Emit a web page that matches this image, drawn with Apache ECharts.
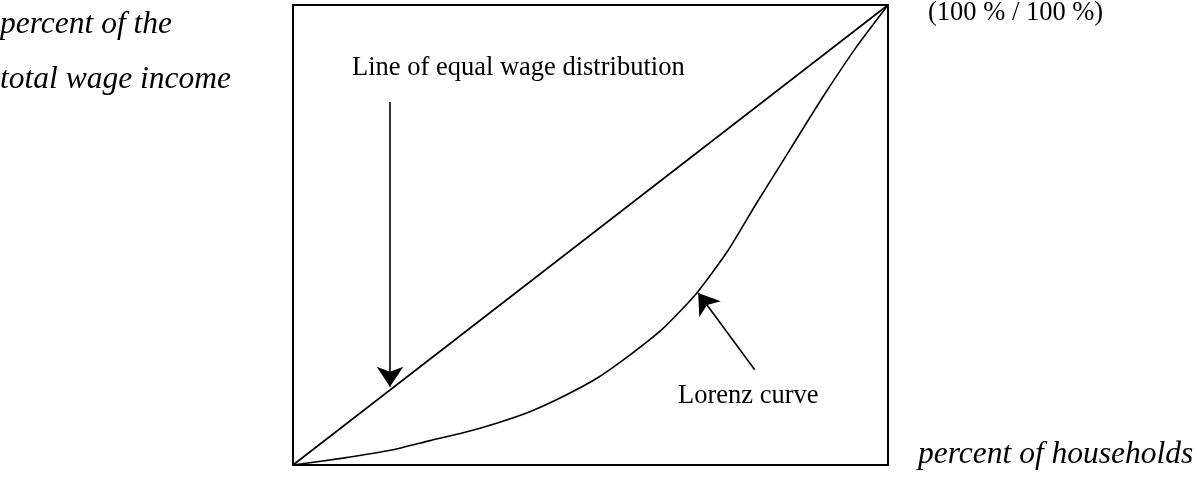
<!DOCTYPE html>
<html>
<head>
<meta charset="utf-8">
<script src="https://cdn.jsdelivr.net/npm/echarts@6/dist/echarts.min.js"></script>
<style>
  html, body { margin: 0; padding: 0; background: #fff; }
  #chart { width: 1197px; height: 482px; }
</style>
</head>
<body>
<div id="chart"></div>
<script>
// share of households (x) vs share of wage income (y), both in %
var equalX = [0, 100];
var equalY = [0, 100];
var lorenzX = [0, 8.4, 16.8, 23.0, 28.6, 34.2, 39.8, 45.4, 51.0, 56.6, 62.2, 67.8, 73.0, 77.9, 83.5, 89.1, 94.7, 100];
var lorenzY = [0, 1.5, 3.3, 5.3, 7.0, 9.1, 11.6, 14.9, 18.8, 23.9, 29.7, 37.3, 46.4, 56.9, 68.5, 80.1, 90.9, 100];
// annotation arrows: [fromX, fromY, toX, toY]
var arrowEqual = [16.3, 78.9, 16.3, 17.0];
var arrowLorenz = [77.6, 20.7, 68.1, 37.4];

var chart = echarts.init(document.getElementById('chart'));
var serif = 'Liberation Serif';

function pairs(xs, ys) {
    var out = [];
    for (var i = 0; i < xs.length; i++) out.push([xs[i], ys[i]]);
    return out;
}

var option = {
    animation: false,
    backgroundColor: '#fff',
    grid: {
        left: 293, top: 5, width: 595, height: 460,
        show: true, borderColor: '#000', borderWidth: 2, backgroundColor: 'transparent'
    },
    xAxis: {
        type: 'value', min: 0, max: 100,
        axisLine: { show: false }, axisTick: { show: false },
        axisLabel: { show: false }, splitLine: { show: false }
    },
    yAxis: {
        type: 'value', min: 0, max: 100,
        axisLine: { show: false }, axisTick: { show: false },
        axisLabel: { show: false }, splitLine: { show: false }
    },
    series: [
        {
            name: 'Line of equal wage distribution',
            type: 'line',
            data: pairs(equalX, equalY),
            symbol: 'none',
            lineStyle: { color: '#000', width: 1.6 }
        },
        {
            name: 'Lorenz curve',
            type: 'line',
            data: pairs(lorenzX, lorenzY),
            smooth: 0.2,
            symbol: 'none',
            lineStyle: { color: '#000', width: 1.6 }
        },
        {
            type: 'lines',
            coordinateSystem: 'cartesian2d',
            symbol: ['none', 'arrow'],
            symbolSize: [18, 20],
            lineStyle: { color: '#000', width: 1.6, opacity: 1 },
            data: [
                { coords: [[arrowEqual[0], arrowEqual[1]], [arrowEqual[2], arrowEqual[3]]] },
                { coords: [[arrowLorenz[0], arrowLorenz[1]], [arrowLorenz[2], arrowLorenz[3]]] }
            ]
        }
    ],
    graphic: [
        { type: 'text', left: 0, top: 9, style: { text: 'percent of the', font: 'italic 31.5px ' + serif, fill: '#000' } },
        { type: 'text', left: 0, top: 64, style: { text: 'total wage income', font: 'italic 31.5px ' + serif, fill: '#000' } },
        { type: 'text', left: 918, top: 439, style: { text: 'percent of households', font: 'italic 31.5px ' + serif, fill: '#000' } },
        { type: 'text', left: 352, top: 55, style: { text: 'Line of equal wage distribution', font: '26.5px ' + serif, fill: '#000' } },
        { type: 'text', left: 678, top: 383, style: { text: 'Lorenz curve', font: '26.5px ' + serif, fill: '#000' } },
        { type: 'text', left: 928, top: 0, style: { text: '(100 % / 100 %)', font: '26.5px ' + serif, fill: '#000' } }
    ]
};

chart.setOption(option);
</script>
</body>
</html>
